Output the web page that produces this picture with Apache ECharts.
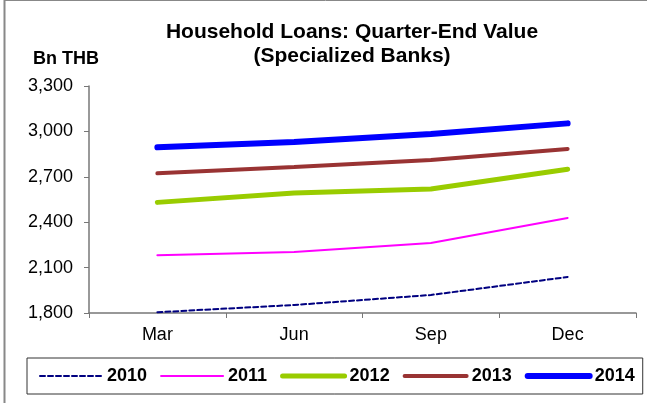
<!DOCTYPE html>
<html>
<head>
<meta charset="utf-8">
<script src="https://cdn.jsdelivr.net/npm/echarts@6/dist/echarts.min.js"></script>
<style>
  html, body { margin: 0; padding: 0; background: #fff; }
  #main { width: 647px; height: 403px; }
</style>
</head>
<body>
<div id="main"></div>
<script>
// data (Bn THB)
const quarters = ["Mar", "Jun", "Sep", "Dec"];
const years = ["2010", "2011", "2012", "2013", "2014"];
const y2010 = [1805, 1853, 1919, 2038];
const y2011 = [2181, 2203, 2263, 2428];
const y2012 = [2531, 2593, 2619, 2750];
const y2013 = [2723, 2765, 2811, 2884];
const y2014 = [2895, 2930, 2983, 3053];
const yTicks = [1800, 2100, 2400, 2700, 3000, 3300];

const colors = ["#000080", "#FF00FF", "#99CC00", "#993333", "#0000FF"];
const widths = [2, 2, 5, 4, 6];

const chart = echarts.init(document.getElementById("main"));

const fontFam = "Liberation Sans, Arial, sans-serif";

function line(i, data) {
  return {
    name: years[i],
    type: "line",
    data: data,
    symbol: "none",
    lineStyle: { color: colors[i], width: widths[i], type: i === 0 ? [5, 3] : "solid", cap: "round" },
    itemStyle: { color: colors[i] },
    emphasis: { disabled: true }
  };
}

const option = {
  animation: false,
  backgroundColor: "#fff",
  textStyle: { fontFamily: fontFam },
  title: {
    text: "Household Loans: Quarter-End Value\n(Specialized Banks)",
    left: 347,
    top: 15,
    textAlign: "center",
    textStyle: { fontSize: 21, fontWeight: "bold", color: "#000", lineHeight: 24, fontFamily: fontFam }
  },
  graphic: [
    { type: "text", left: 33, top: 50, style: { text: "Bn THB", font: "bold 18px " + fontFam, fill: "#000" } },
    { type: "line", shape: { x1: 4.5, y1: 0, x2: 4.5, y2: 403 }, style: { stroke: "#888", lineWidth: 2 } },
    { type: "line", shape: { x1: 4, y1: 0.5, x2: 647, y2: 0.5 }, style: { stroke: "#888", lineWidth: 1 } }
  ],
  legend: {
    data: years.map(function (y, i) {
      return {
        name: y,
        itemStyle: { opacity: 0 },
        lineStyle: { width: widths[i], color: colors[i], cap: "round" }
      };
    }),
    orient: "horizontal",
    left: 27,
    top: 358,
    padding: [9, 8, 9, 12],
    itemWidth: 62,
    itemHeight: 14,
    itemGap: 13,
    borderColor: "#333",
    borderWidth: 1,
    textStyle: { fontSize: 18, fontWeight: "bold", color: "#000", fontFamily: fontFam }
  },
  grid: {
    left: 89,
    right: 11,
    top: 86,
    bottom: 90,
    outerBoundsMode: "none"
  },
  xAxis: {
    type: "category",
    data: quarters,
    boundaryGap: true,
    axisLine: { lineStyle: { color: "#777", width: 1.5 } },
    axisTick: { show: true, length: 5, lineStyle: { color: "#777" } },
    axisLabel: { color: "#000", fontSize: 18, margin: 13, fontFamily: fontFam }
  },
  yAxis: {
    type: "value",
    min: yTicks[0],
    max: yTicks[yTicks.length - 1],
    interval: 300,
    axisLine: { show: true, lineStyle: { color: "#777", width: 1.5 } },
    axisTick: { show: true, length: 5, lineStyle: { color: "#777" } },
    splitLine: { show: false },
    axisLabel: {
      color: "#000",
      fontSize: 18,
      margin: 16,
      fontFamily: fontFam,
      formatter: function (v) { return v.toLocaleString("en-US"); }
    }
  },
  series: [
    line(0, y2010),
    line(1, y2011),
    line(2, y2012),
    line(3, y2013),
    line(4, y2014)
  ]
};

chart.setOption(option);
</script>
</body>
</html>
